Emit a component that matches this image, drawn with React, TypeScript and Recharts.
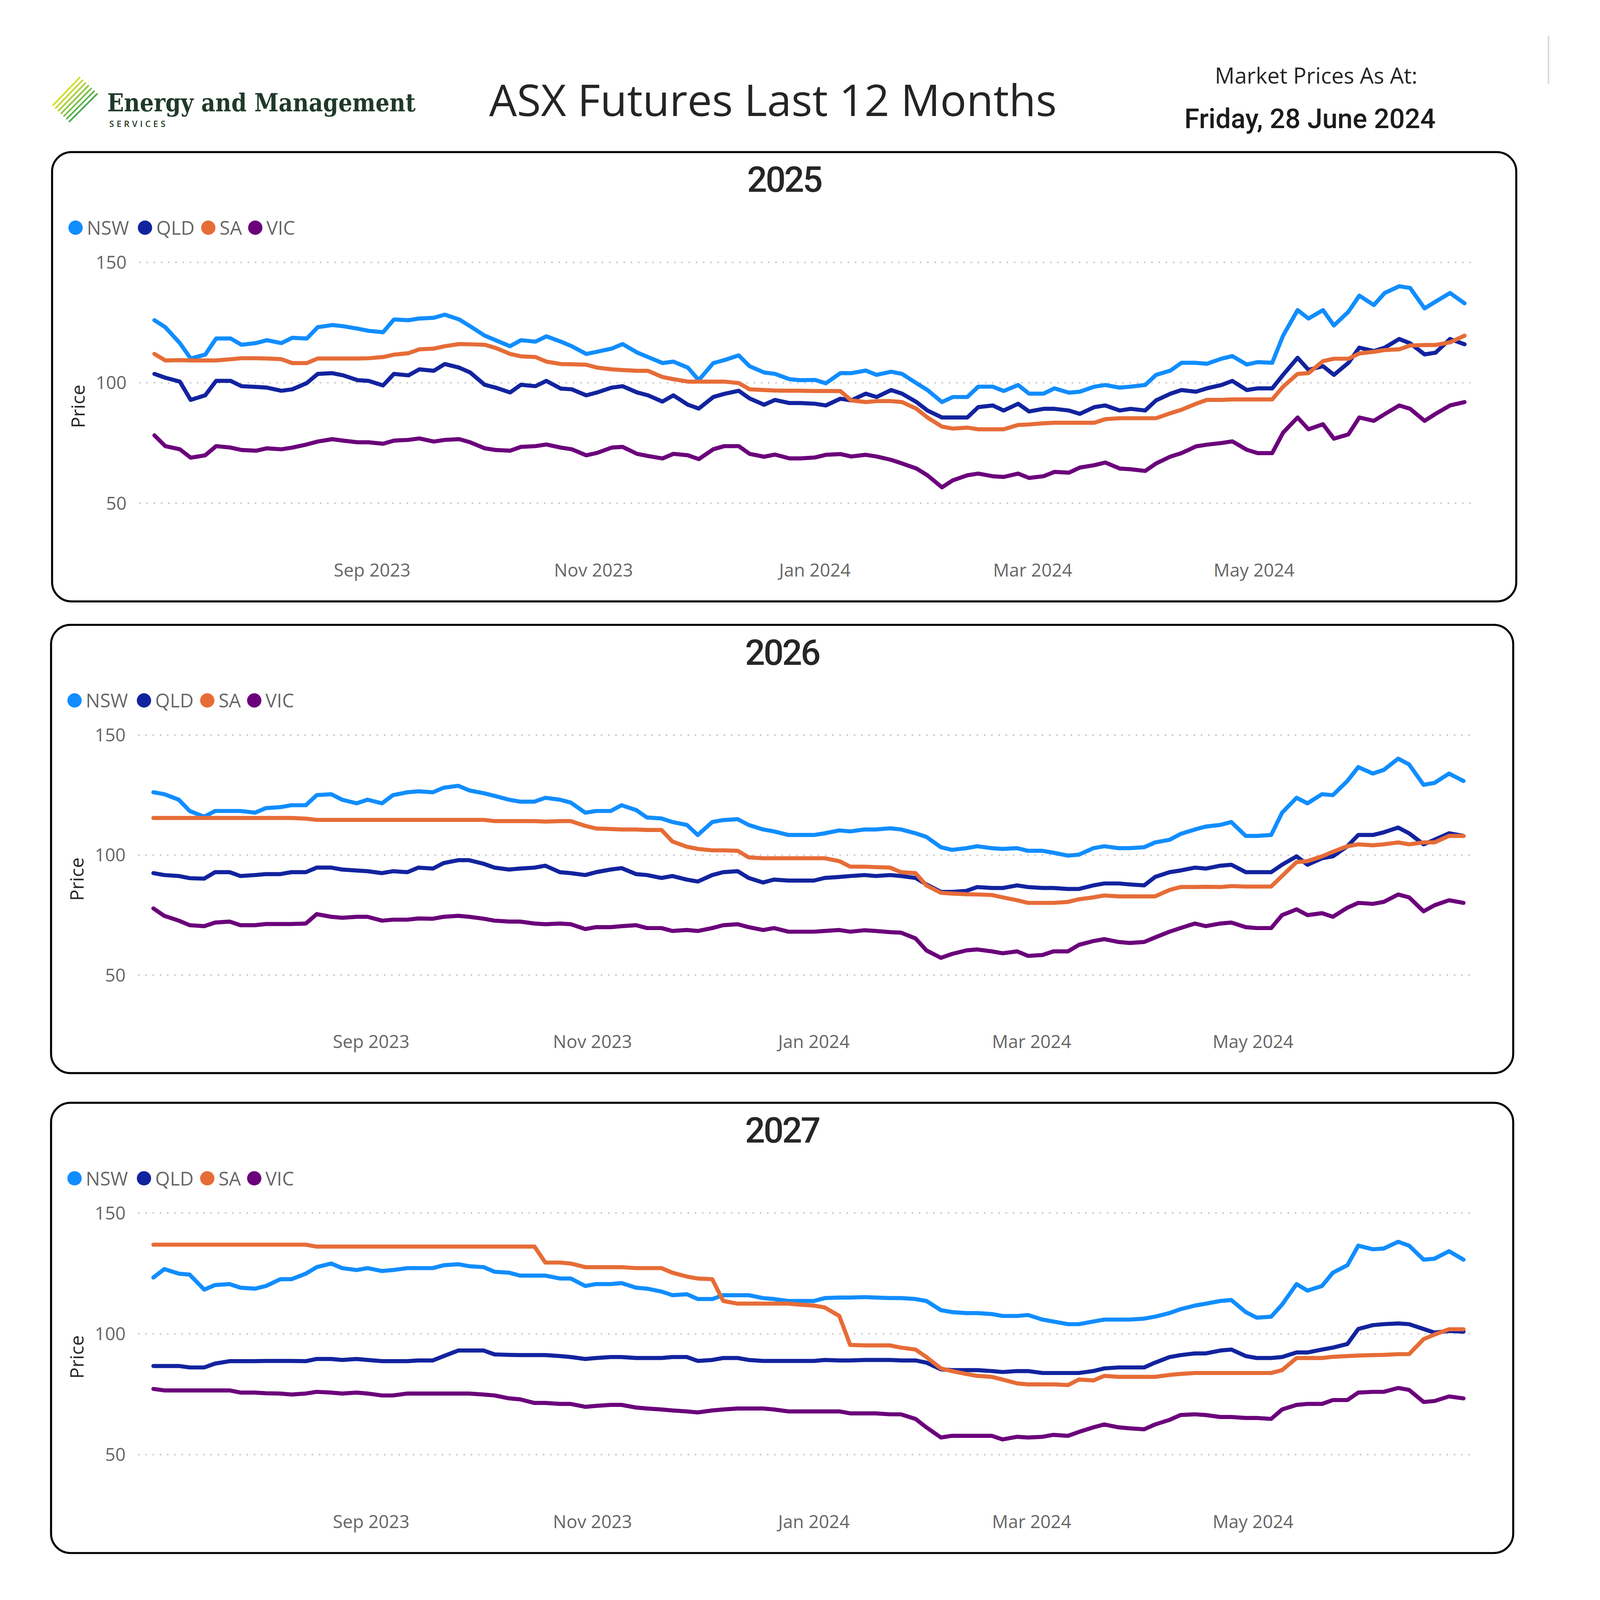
import { LineChart, Line, XAxis, YAxis, ReferenceLine } from 'recharts'

// price samples: each Monday plus the last trading day...
const MONDAYS = [
  '2023-07-03', '2023-07-10', '2023-07-17', '2023-07-24', '2023-07-31',
  '2023-08-07', '2023-08-14', '2023-08-21', '2023-08-28',
  '2023-09-04', '2023-09-11', '2023-09-18', '2023-09-25',
  '2023-10-02', '2023-10-09', '2023-10-16', '2023-10-23', '2023-10-30',
  '2023-11-06', '2023-11-13', '2023-11-20', '2023-11-27',
  '2023-12-04', '2023-12-11', '2023-12-18', '2023-12-25',
  '2024-01-01', '2024-01-08', '2024-01-15', '2024-01-22', '2024-01-29',
  '2024-02-05', '2024-02-12', '2024-02-19', '2024-02-26',
  '2024-03-04', '2024-03-11', '2024-03-18', '2024-03-25',
  '2024-04-01', '2024-04-08', '2024-04-15', '2024-04-22', '2024-04-29',
  '2024-05-06', '2024-05-13', '2024-05-20', '2024-05-27',
  '2024-06-03', '2024-06-10', '2024-06-17', '2024-06-24', '2024-06-28',
]
// ...and each Thursday
const THURSDAYS = [
  '2023-07-06', '2023-07-13', '2023-07-20', '2023-07-27',
  '2023-08-03', '2023-08-10', '2023-08-17', '2023-08-24', '2023-08-31',
  '2023-09-07', '2023-09-14', '2023-09-21', '2023-09-28',
  '2023-10-05', '2023-10-12', '2023-10-19', '2023-10-26',
  '2023-11-02', '2023-11-09', '2023-11-16', '2023-11-23', '2023-11-30',
  '2023-12-07', '2023-12-14', '2023-12-21', '2023-12-28',
  '2024-01-04', '2024-01-11', '2024-01-18', '2024-01-25',
  '2024-02-01', '2024-02-08', '2024-02-15', '2024-02-22', '2024-02-29',
  '2024-03-07', '2024-03-14', '2024-03-21', '2024-03-28',
  '2024-04-04', '2024-04-11', '2024-04-18', '2024-04-25',
  '2024-05-02', '2024-05-09', '2024-05-16', '2024-05-23', '2024-05-30',
  '2024-06-06', '2024-06-13', '2024-06-20',
]

const X_TICKS = ['2023-09-01', '2023-11-01', '2024-01-01', '2024-03-01', '2024-05-01']
const X_DOMAIN = ['2023-06-29', '2024-07-01']
const Y_TICKS = [50, 100, 150]
const MONTHS = ['Jan', 'Feb', 'Mar', 'Apr', 'May', 'Jun', 'Jul', 'Aug', 'Sep', 'Oct', 'Nov', 'Dec']
const REGIONS = ['NSW', 'QLD', 'SA', 'VIC']

// ---- 2025 contract ----
const NSW_2025_MON = [
  126, 116.5, 111.7, 118.4, 116.5, 116.5, 118.4, 124, 122.5, 121, 126, 127, 126.3,
  119.6, 115.2, 117.1, 117.1, 112, 114.2, 112.6, 108.2, 106.3, 108.2, 111.4, 104.3, 101.5,
  101.2, 104, 105.1, 104.6, 99.8, 92, 94.1, 98.4, 99.1, 95.5, 95.9, 98.4, 98,
  99.1, 105.1, 108.3, 110, 107.6, 108.3, 130.2, 130.2, 129.5, 132.3, 140.1, 130.9, 137.3, 133,
]
const NSW_2025_THU = [
  123.1, 110.1, 118.4, 115.8, 117.7, 118.7, 123.1, 123.5, 121.6, 126.3, 126.7, 128.3, 123.5,
  117.7, 117.7, 119.3, 115.2, 112.9, 116.1, 110.7, 108.8, 101.1, 109.4, 106.9, 103.7, 101.1,
  99.8, 104, 103.3, 103.7, 97, 94.1, 98.4, 96.6, 95.5, 97.7, 96.3, 99.1, 98.4,
  103.3, 108.3, 107.9, 111.1, 108.6, 119.6, 126.7, 123.8, 136.2, 137.3, 139.4, 133.7,
]
const QLD_2025_MON = [
  103.7, 100.5, 94.8, 100.8, 98.3, 96.7, 99.9, 104, 101.1, 98.9, 103.1, 105, 106.3,
  99.2, 96, 98.6, 97.6, 94.8, 98, 96, 92.2, 90.9, 94.1, 96.7, 90.9, 91.6,
  91.3, 93.4, 95.5, 97, 92, 85.6, 85.6, 90.6, 91.3, 89.2, 88.5, 89.9, 88.5,
  88.5, 95.5, 96.3, 99.1, 97, 97.7, 110.4, 106.9, 108.3, 113.2, 118.2, 111.8, 118.2, 116,
]
const QLD_2025_THU = [
  102.1, 92.9, 100.8, 98.6, 98, 97.3, 103.7, 103.1, 100.8, 103.7, 105.6, 107.8, 104.3,
  98, 99.2, 100.8, 97.3, 96, 98.6, 94.8, 94.8, 89.3, 95.4, 93.5, 92.9, 91.6,
  90.6, 92.7, 94.1, 95.5, 88.5, 85.6, 89.9, 88.5, 88.1, 89.2, 87.1, 90.6, 89.2,
  92.7, 97, 97.7, 100.8, 97.7, 103.3, 105.4, 103.3, 114.6, 114.6, 116.4, 112.5,
]
const SA_2025_MON = [
  112, 109.4, 109.3, 109.8, 110.2, 109.8, 108.2, 110.1, 110.1, 110.7, 112.3, 114.2, 116.1,
  115.8, 112, 110.7, 107.8, 107.5, 105.6, 105, 102.4, 100.5, 100.5, 99.9, 97, 96.7,
  96.6, 96.6, 92, 92.4, 89.2, 81.8, 81.4, 80.7, 82.5, 83.2, 83.4, 83.4, 85.3,
  85.3, 87.4, 91.3, 92.9, 93.1, 93.1, 103.7, 109, 110, 112.9, 113.9, 115.7, 116.8, 119.6,
]
const SA_2025_THU = [
  109.3, 109.3, 109.3, 110.2, 110.1, 108.2, 110.1, 110.1, 110.2, 111.7, 113.9, 115.2, 116,
  114.5, 111, 108.8, 107.7, 106.3, 105.3, 105, 101.5, 100.5, 100.5, 97.3, 96.8, 96.7,
  96.6, 92.7, 92.4, 92, 85.6, 81, 80.7, 80.7, 82.7, 83.4, 83.4, 84.9, 85.3,
  85.3, 88.8, 92.9, 93.1, 93.1, 98.4, 104, 110, 112.2, 113.6, 115.5, 115.7,
]
const VIC_2025_MON = [
  78.2, 72.4, 69.9, 73.1, 71.8, 72.4, 74.4, 76.6, 75.3, 74.7, 76.3, 75.6, 76.6,
  72.8, 71.8, 73.7, 73.1, 69.9, 73.1, 70.5, 68.6, 69.9, 72.4, 73.7, 69.3, 68.6,
  69, 70.4, 70.1, 68, 64.4, 56.6, 61.6, 61.2, 62.3, 61.2, 62.7, 65.8, 64.4,
  63.4, 69.4, 73.6, 75, 72.2, 70.8, 85.6, 82.8, 78.6, 84.2, 90.6, 84.2, 90.6, 92,
]
const VIC_2025_THU = [
  73.7, 68.9, 73.7, 72.1, 72.8, 73.1, 75.6, 76, 75.3, 76, 76.9, 76.3, 75.3,
  72.1, 73.4, 74.4, 72.4, 70.9, 73.4, 69.6, 70.5, 68.3, 73.7, 70.5, 70.2, 68.6,
  70.1, 69.4, 69.4, 66.5, 61.6, 59.5, 62.3, 60.9, 60.5, 63, 64.8, 66.9, 64.1,
  66.5, 70.8, 74.3, 75.7, 70.8, 79.3, 80.7, 76.8, 85.6, 87, 89.2, 87.1,
]

// ---- 2026 contract ----
const NSW_2026_MON = [
  126.2, 123.1, 116, 118.4, 117.7, 120, 120.8, 125.4, 121.6, 121.6, 126.2, 126.2, 128.9,
  125.8, 123.1, 122.3, 123.1, 117.7, 118.4, 118.8, 115.3, 112.6, 113.8, 115, 110.7, 108.4,
  108.4, 110.3, 110.7, 111.2, 109.1, 103.3, 102.9, 102.9, 102.9, 101.8, 99.8, 102.9, 102.9,
  103.3, 106.4, 110.7, 112.6, 108, 108.4, 123.9, 125.4, 130.9, 134, 140.2, 129.3, 134, 130.9,
]
const NSW_2026_THU = [
  125.4, 118.4, 118.4, 118.4, 119.6, 120.8, 125, 123.1, 123.1, 125, 126.6, 128.1, 127,
  124.7, 122.3, 123.9, 121.9, 118.4, 120.8, 115.7, 113.8, 108.4, 114.6, 112.6, 109.9, 108.4,
  109.1, 109.9, 110.7, 110.7, 107.6, 102.2, 103.7, 102.6, 101.8, 101, 100.2, 103.7, 102.9,
  105.3, 108.8, 111.9, 113.8, 108, 117.7, 121.6, 125, 136.7, 135.5, 137.8, 130.1,
]
const QLD_2026_MON = [
  92.5, 91.3, 90.2, 92.9, 91.7, 92.1, 92.9, 94.8, 93.6, 92.5, 92.9, 94.4, 97.9,
  96.4, 94, 94.8, 92.9, 91.7, 94, 92.1, 90.5, 89.8, 91.7, 93.3, 88.6, 89.4,
  89.4, 90.9, 91.7, 91.7, 90.5, 84.7, 85.1, 86.3, 87.4, 86.3, 85.9, 87.4, 88.2,
  87.4, 92.9, 94.8, 95.6, 92.9, 92.9, 99.5, 98.7, 103.7, 108.4, 111.5, 104.5, 109.1, 108,
]
const QLD_2026_THU = [
  91.7, 90.4, 92.9, 91.3, 92.1, 92.9, 94.8, 94, 93.3, 93.3, 94.8, 96.7, 97.9,
  94.8, 94.4, 95.6, 92.5, 92.9, 94.6, 91.7, 91.3, 89, 92.9, 90.5, 89.8, 89.4,
  90.5, 91.3, 91.3, 91.3, 87.8, 84.7, 86.7, 86.3, 86.7, 86.3, 85.9, 88.2, 87.8,
  90.9, 93.6, 94.4, 96, 92.9, 96, 96, 99.5, 108.4, 109.5, 109.1, 106.4,
]
const SA_2026_MON = [
  115.5, 115.5, 115.5, 115.5, 115.5, 115.5, 115.2, 114.7, 114.7, 114.7, 114.7, 114.7, 114.7,
  114.7, 114.2, 114.2, 114.2, 112.2, 110.9, 110.7, 110.5, 103.5, 102, 101.8, 98.7, 98.7,
  98.7, 97.5, 95.2, 94.8, 92.5, 84.3, 83.7, 83.4, 81.2, 80.1, 80.5, 82.4, 82.8,
  82.8, 85.5, 86.7, 86.7, 86.9, 86.9, 97.1, 99.5, 103.7, 104.1, 105.3, 105.3, 108, 108,
]
const SA_2026_THU = [
  115.5, 115.5, 115.5, 115.5, 115.5, 115.5, 114.7, 114.7, 114.7, 114.7, 114.7, 114.7, 114.7,
  114.2, 114.2, 114, 114.2, 111.1, 110.7, 110.5, 105.7, 102.6, 102, 99.1, 98.7, 98.7,
  98.7, 95.2, 95, 92.9, 87.4, 84, 83.6, 82.4, 80.1, 80.1, 81.6, 83.2, 82.8,
  82.8, 86.7, 86.8, 87.1, 86.9, 91.3, 97.5, 101.4, 104.5, 104.5, 104.5, 105.3,
]
const VIC_2026_MON = [
  77.8, 72.7, 70.4, 72.3, 70.8, 71.3, 71.5, 74.3, 74.3, 72.7, 73.1, 73.5, 74.7,
  73.5, 72.3, 71.5, 71.5, 69.2, 70, 70.8, 69.6, 68.8, 69.6, 71.2, 68.8, 68.1,
  68.1, 68.8, 68.7, 67.9, 65.3, 57.2, 60.3, 59.9, 59.9, 58.4, 59.9, 64.2, 63.8,
  63.8, 68.1, 71.5, 71.5, 70, 69.6, 77.4, 75.8, 78.1, 79.7, 83.6, 76.6, 81.2, 80.1,
]
const VIC_2026_THU = [
  74.7, 70.8, 71.9, 70.8, 71.3, 71.3, 75.4, 73.9, 74.3, 73.1, 73.6, 74.3, 74.3,
  72.7, 72.3, 71.2, 71.2, 70, 70.4, 69.6, 68.4, 68.4, 70.8, 70, 69.6, 68.1,
  68.4, 68.1, 68.4, 67.7, 60.3, 58.8, 60.7, 59.1, 58, 59.9, 62.6, 65, 63.4,
  65.7, 69.6, 70.4, 71.9, 69.6, 75, 75, 74.3, 80.1, 80.5, 82.4, 79.1,
]

// ---- 2027 contract ----
const NSW_2027_MON = [
  123.3, 124.9, 118.3, 120.6, 118.7, 122.6, 124.9, 129.1, 126.4, 126, 127.2, 127.2, 128.8,
  127.6, 125.3, 124.1, 122.9, 119.8, 120.6, 119.1, 117.5, 116.4, 114.4, 116, 114.8, 113.6,
  113.6, 115, 115.2, 114.8, 114.4, 109.8, 108.6, 108.2, 107.4, 105.9, 104, 105.1, 105.9,
  106.3, 108.6, 111.7, 113.6, 109, 107.1, 120.6, 119.8, 128.4, 135, 138.1, 130.7, 134.2, 130.7,
]
const NSW_2027_THU = [
  126.8, 124.5, 120.2, 119.1, 119.8, 122.6, 127.6, 127.2, 127.2, 126.4, 127.2, 128.4, 128,
  125.7, 124.1, 124.1, 122.9, 120.6, 121, 118.7, 116, 114.4, 116, 116, 114.4, 113.6,
  114.8, 115, 115, 114.8, 113.6, 109, 108.6, 107.4, 107.8, 105.1, 104, 105.9, 105.9,
  107.1, 110.2, 112.5, 114, 106.7, 112.1, 117.9, 125.3, 136.5, 135.3, 136.5, 131.1,
]
const QLD_2027_MON = [
  86.7, 86.7, 86.1, 88.7, 88.7, 88.8, 88.7, 89.6, 89.6, 88.7, 88.7, 89, 93.1,
  93.1, 91.3, 91.2, 90.8, 89.6, 90.4, 90, 90, 90.4, 89.2, 90, 88.8, 88.8,
  88.8, 89, 89.2, 89.2, 89, 85.3, 85, 84.6, 84.6, 83.8, 83.8, 84.6, 86.1,
  86.1, 90.4, 91.9, 93.1, 90.8, 90, 92.3, 93.5, 95.8, 103.6, 104.3, 102, 101.2, 100.9,
]
const QLD_2027_THU = [
  86.7, 86.1, 87.7, 88.7, 88.8, 88.8, 89.6, 89.2, 89.2, 88.7, 89, 90.8, 93.1,
  91.5, 91.2, 91.2, 90.4, 90, 90.4, 90, 90.4, 88.8, 90, 89.2, 88.8, 88.8,
  89.2, 89, 89.2, 89, 88.1, 85, 85, 84.2, 84.6, 83.8, 83.8, 85.7, 86.1,
  88.1, 91.2, 91.9, 93.5, 90, 90.4, 92.3, 94.3, 102, 104, 104, 100.5,
]
const SA_2027_MON = [
  136.9, 136.9, 136.9, 136.9, 136.9, 136.9, 136.9, 136.1, 136.1, 136.1, 136.1, 136.1, 136.1,
  136.1, 136.1, 136.1, 129.5, 127.6, 127.6, 127.2, 127.2, 123.7, 122.6, 112.5, 112.5, 112.5,
  111.7, 107.4, 95.2, 95.2, 93.5, 85.7, 83.4, 82.2, 79.5, 79.1, 78.8, 80.7, 82.2,
  82.2, 83, 83.8, 83.8, 83.8, 83.8, 90, 90, 90.8, 91.2, 91.6, 97.8, 101.9, 101.9,
]
const SA_2027_THU = [
  136.9, 136.9, 136.9, 136.9, 136.9, 136.9, 136.1, 136.1, 136.1, 136.1, 136.1, 136.1, 136.1,
  136.1, 136.1, 129.5, 129.1, 127.6, 127.6, 127.2, 125.3, 122.9, 113.6, 112.5, 112.5, 112.1,
  110.9, 95.4, 95.2, 94.3, 90.4, 84.6, 82.6, 81.1, 79.1, 79.1, 81.1, 82.6, 82.2,
  82.2, 83.4, 83.8, 83.8, 83.8, 85, 90, 90.5, 91, 91.3, 91.6, 99.7,
]
const VIC_2027_MON = [
  77.2, 76.6, 76.6, 76.6, 75.7, 75.3, 75.3, 75.7, 75.7, 74.5, 75.3, 75.3, 75.3,
  74.9, 73.3, 71.4, 71, 69.8, 70.6, 69.5, 68.7, 67.9, 68.3, 69.1, 69.1, 67.9,
  67.9, 67.9, 67.1, 66.7, 64.8, 57.1, 57.8, 57.8, 57.4, 57.4, 57.8, 61.3, 61.3,
  60.5, 64.4, 66.7, 65.6, 65.2, 64.8, 70.6, 71, 72.6, 76, 77.6, 71.8, 74.1, 73.3,
]
const VIC_2027_THU = [
  76.6, 76.6, 76.6, 75.7, 75.4, 74.9, 76, 75.3, 75.3, 74.5, 75.3, 75.3, 75.3,
  74.5, 72.9, 71.4, 71, 70.2, 70.6, 69.1, 68.3, 67.5, 68.7, 69.1, 68.7, 67.9,
  67.9, 67.1, 67.1, 66.7, 61.3, 57.8, 57.8, 56.3, 57.1, 58.2, 59.4, 62.5, 60.9,
  62.5, 66.4, 66.4, 65.6, 65.2, 68.7, 71, 72.6, 75.7, 76, 76.8, 72.2,
]

const COLORS: Record<string, string> = {
  NSW: '#118DFF',
  QLD: '#12239E',
  SA: '#E66C37',
  VIC: '#6B007B',
}

// the layout is drawn on a fixed design grid and scaled to the window
const BASE_W = 1549
const BASE_H = 1567
const UI_FONT = "'Open Sans', 'Noto Sans', sans-serif"

const utc = (s: string) => {
  const [y, m, d] = s.split('-').map(Number)
  return Date.UTC(y, m - 1, d)
}

const fmtMonth = (t: number) => {
  const d = new Date(t)
  return `${MONTHS[d.getUTCMonth()]} ${d.getUTCFullYear()}`
}

type Pair = [number[], number[]]

// merge the Monday and Thursday readings into one date-ordered table
function buildRows(nsw: Pair, qld: Pair, sa: Pair, vic: Pair) {
  const pick = (k: 0 | 1, dates: string[]) =>
    dates.map((d, i) => ({ t: utc(d), NSW: nsw[k][i], QLD: qld[k][i], SA: sa[k][i], VIC: vic[k][i] }))
  return [...pick(0, MONDAYS), ...pick(1, THURSDAYS)].sort((a, b) => a.t - b.t)
}

const PANELS = [
  {
    year: '2025', left: 50, top: 148, width: 1436, height: 442,
    rows: buildRows(
      [NSW_2025_MON, NSW_2025_THU], [QLD_2025_MON, QLD_2025_THU],
      [SA_2025_MON, SA_2025_THU], [VIC_2025_MON, VIC_2025_THU],
    ),
  },
  {
    year: '2026', left: 49, top: 611, width: 1434, height: 441,
    rows: buildRows(
      [NSW_2026_MON, NSW_2026_THU], [QLD_2026_MON, QLD_2026_THU],
      [SA_2026_MON, SA_2026_THU], [VIC_2026_MON, VIC_2026_THU],
    ),
  },
  {
    year: '2027', left: 49, top: 1079, width: 1434, height: 443,
    rows: buildRows(
      [NSW_2027_MON, NSW_2027_THU], [QLD_2027_MON, QLD_2027_THU],
      [SA_2027_MON, SA_2027_THU], [VIC_2027_MON, VIC_2027_THU],
    ),
  },
]

// legend item offsets inside a panel
const LEGEND_X = [17, 85, 147, 193]

function Panel({ year, left, top, width, height, rows }: typeof PANELS[number]) {
  const tickStyle = { fontSize: 17.6, fill: '#666666', fontFamily: UI_FONT }
  return (
    <div style={{ position: 'absolute', left, top, width, height }}>
      <div
        style={{
          position: 'absolute', inset: 0, border: '2px solid #000',
          borderRadius: 20, boxSizing: 'border-box',
        }}
      />
      <div style={{ position: 'absolute', left: 0, top: 0 }}>
        <LineChart
          width={width}
          height={height}
          data={rows}
          margin={{ top: 109, right: width - 1395, left: 27, bottom: 20 }}
        >
          <XAxis
            dataKey="t"
            type="number"
            domain={X_DOMAIN.map(utc)}
            ticks={X_TICKS.map(utc)}
            tickFormatter={fmtMonth}
            axisLine={false}
            tickLine={false}
            tickSize={0}
            tickMargin={12}
            height={30}
            tick={tickStyle}
            interval={0}
          />
          <YAxis
            type="number"
            domain={[30, 150]}
            ticks={Y_TICKS}
            width={60}
            axisLine={false}
            tickLine={false}
            tickSize={0}
            tickMargin={13}
            tick={tickStyle}
            interval={0}
          />
          {Y_TICKS.map((v) => (
            <ReferenceLine
              key={v}
              y={v}
              stroke="#c8c8c8"
              strokeDasharray="0.01 7.07"
              strokeLinecap="round"
              strokeWidth={1.7}
              ifOverflow="visible"
            />
          ))}
          {REGIONS.map((r) => (
            <Line
              key={r}
              type="linear"
              dataKey={r}
              stroke={COLORS[r]}
              strokeWidth={4}
              strokeLinejoin="round"
              strokeLinecap="round"
              dot={false}
              activeDot={false}
              isAnimationActive={false}
            />
          ))}
        </LineChart>
      </div>

      {/* legend */}
      {REGIONS.map((r, i) => (
        <div
          key={r}
          style={{
            position: 'absolute', left: LEGEND_X[i], top: 64, height: 22,
            display: 'flex', alignItems: 'center', gap: 4,
            fontFamily: UI_FONT, fontSize: 18.6, color: '#666666', lineHeight: '22px',
          }}
        >
          <span style={{ width: 14, height: 14, borderRadius: 7, background: COLORS[r], display: 'inline-block' }} />
          <span>{r}</span>
        </div>
      ))}

      <svg width={width} height={height} style={{ position: 'absolute', left: 0, top: 0, pointerEvents: 'none' }}>
        <text
          x={width / 2}
          y={40}
          textAnchor="middle"
          fontFamily="Roboto, sans-serif"
          fontWeight={500}
          fontSize={34.6}
          letterSpacing={-1.5}
          fill="#262626"
        >
          {year}
        </text>
        <text
          x={0}
          y={0}
          transform="translate(33, 250) rotate(-90)"
          textAnchor="middle"
          fontFamily={UI_FONT}
          fontSize={18.5}
          fill="#252423"
        >
          Price
        </text>
      </svg>
    </div>
  )
}

function Header() {
  const logoColors = ['#d4dd1f', '#c2d72b', '#a9ce36', '#8fc43f', '#76bc45', '#5eb34a', '#48aa4e']
  return (
    <svg width={BASE_W} height={160} style={{ position: 'absolute', left: 0, top: 0 }}>
      {logoColors.map((c, i) => {
        const t = i / (logoColors.length - 1)
        return (
          <line
            key={i}
            x1={52 + 16 * t}
            y1={103 + 16 * t}
            x2={78 + 17 * t}
            y2={76 + 16 * t}
            stroke={c}
            strokeWidth={1.6}
            strokeLinecap="round"
          />
        )
      })}
      <text
        x={105}
        y={109}
        fontFamily="'DejaVu Serif', serif"
        fontWeight={700}
        fontSize={24}
        textLength={302}
        lengthAdjust="spacingAndGlyphs"
        fill="#1f3a29"
      >
        Energy and Management
      </text>
      <text
        x={107}
        y={124.5}
        fontFamily={UI_FONT}
        fontWeight={600}
        fontSize={8.5}
        textLength={55}
        lengthAdjust="spacing"
        fill="#1f3a29"
      >
        SERVICES
      </text>
      <text x={757} y={113.5} textAnchor="middle" fontFamily={UI_FONT} fontSize={42.9} fill="#252423">
        ASX Futures Last 12 Months
      </text>
      <text x={1289} y={82} textAnchor="middle" fontFamily={UI_FONT} fontSize={21.5} fill="#252423">
        Market Prices As At:
      </text>
      <text
        x={1283}
        y={125.6}
        textAnchor="middle"
        fontFamily="Roboto, sans-serif"
        fontWeight={500}
        fontSize={26.6}
        fill="#1b1b1b"
      >
        Friday, 28 June 2024
      </text>
      <line x1={1516.5} y1={35} x2={1516.5} y2={82} stroke="#dadada" strokeWidth={1.5} />
    </svg>
  )
}

export default function App() {
  const vw = typeof window !== 'undefined' ? window.innerWidth : 5910
  const vh = typeof window !== 'undefined' ? window.innerHeight : 5978
  const scale = Math.min(vw / BASE_W, vh / BASE_H)
  return (
    <div
      style={{
        position: 'absolute', left: 0, top: 0, width: vw, height: vh,
        overflow: 'hidden', background: '#fff',
      }}
    >
      <div
        style={{
          position: 'relative', width: BASE_W, height: BASE_H,
          transform: `scale(${scale})`, transformOrigin: '0 0',
        }}
      >
        <Header />
        {PANELS.map((p) => (
          <Panel key={p.year} {...p} />
        ))}
      </div>
    </div>
  )
}
